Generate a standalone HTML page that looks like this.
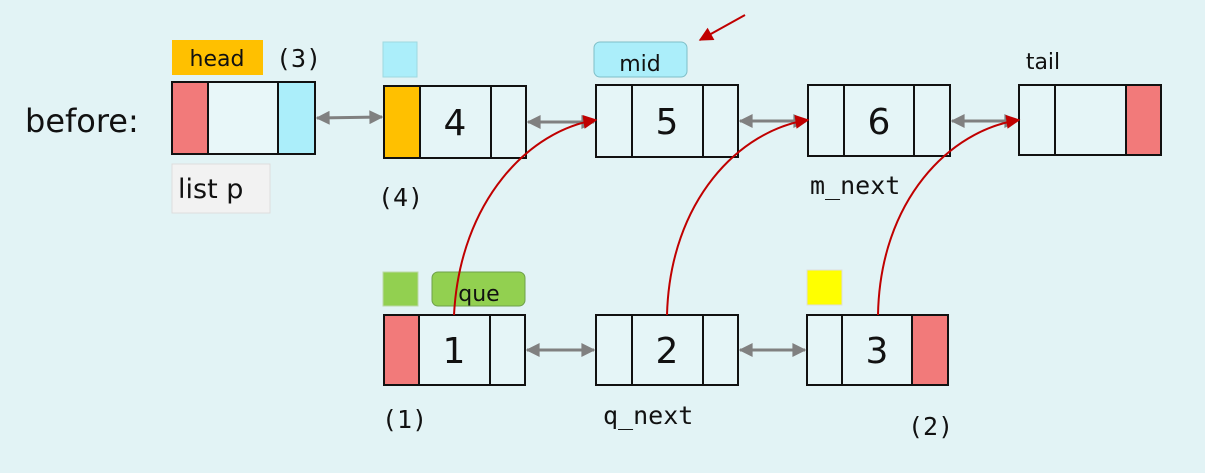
<!DOCTYPE html>
<html><head><meta charset="utf-8"><style>
html,body{margin:0;padding:0;background:#e2f3f5;}
svg{display:block}
.s{font-family:"DejaVu Sans","Liberation Sans",sans-serif;}
.m{font-family:"DejaVu Sans Mono","Liberation Mono",monospace;}
</style></head><body>
<svg width="1205" height="473" viewBox="0 0 1205 473" xmlns="http://www.w3.org/2000/svg">
<defs>
<marker id="g" viewBox="0 0 10 10" refX="9" refY="5" markerUnits="userSpaceOnUse" markerWidth="17" markerHeight="14" orient="auto-start-reverse"><path d="M0,0 L10,5 L0,10 z" fill="#808080"/></marker>
<marker id="r" viewBox="0 0 10 10" refX="9" refY="5" markerUnits="userSpaceOnUse" markerWidth="16" markerHeight="14" orient="auto"><path d="M0,0 L10,5 L0,10 z" fill="#c00000"/></marker>
</defs>
<rect width="1205" height="473" fill="#e2f3f5"/>
<g stroke="#111" stroke-width="2">
<rect x="172" y="82" width="36" height="72" fill="#f27a7a"/>
<rect x="208" y="82" width="70" height="72" fill="#e8f7f9"/>
<rect x="278" y="82" width="37" height="72" fill="#abeefa"/>
<rect x="384" y="86" width="36" height="72" fill="#ffc000"/>
<rect x="420" y="86" width="71" height="72" fill="#e5f5f7"/>
<rect x="491" y="86" width="35" height="72" fill="#e5f5f7"/>
<rect x="596" y="85" width="36" height="72" fill="#e5f5f7"/>
<rect x="632" y="85" width="71" height="72" fill="#e5f5f7"/>
<rect x="703" y="85" width="35" height="72" fill="#e5f5f7"/>
<rect x="808" y="85" width="36" height="71" fill="#e5f5f7"/>
<rect x="844" y="85" width="70" height="71" fill="#e5f5f7"/>
<rect x="914" y="85" width="36" height="71" fill="#e5f5f7"/>
<rect x="1019" y="85" width="36" height="70" fill="#e5f5f7"/>
<rect x="1055" y="85" width="71" height="70" fill="#e5f5f7"/>
<rect x="1126" y="85" width="35" height="70" fill="#f27a7a"/>
<rect x="384" y="315" width="35" height="70" fill="#f27a7a"/>
<rect x="419" y="315" width="71" height="70" fill="#e5f5f7"/>
<rect x="490" y="315" width="35" height="70" fill="#e5f5f7"/>
<rect x="596" y="315" width="36" height="70" fill="#e5f5f7"/>
<rect x="632" y="315" width="71" height="70" fill="#e5f5f7"/>
<rect x="703" y="315" width="35" height="70" fill="#e5f5f7"/>
<rect x="807" y="315" width="35" height="70" fill="#e5f5f7"/>
<rect x="842" y="315" width="70" height="70" fill="#e5f5f7"/>
<rect x="912" y="315" width="36" height="70" fill="#f27a7a"/>
</g>
<rect x="172" y="40" width="91" height="35" fill="#ffc000"/>
<rect x="383" y="42" width="34" height="35" fill="#abeefa" stroke="#9fd8e0"/>
<rect x="594" y="42" width="93" height="35" rx="6" fill="#abeefa" stroke="#7fbfc8"/>
<rect x="172" y="164" width="98" height="49" fill="#f2f2f2" stroke="#ddd"/>
<rect x="383" y="272" width="35" height="34" fill="#92d050" stroke="#bcd9a8"/>
<rect x="432" y="272" width="93" height="34" rx="6" fill="#92d050" stroke="#6fa04a"/>
<rect x="807" y="270" width="35" height="35" fill="#ffff00" stroke="#ddd"/>
<g class="s" fill="#111">
<text x="217" y="66" font-size="22" text-anchor="middle">head</text>
<text x="640" y="71" font-size="22" text-anchor="middle">mid</text>
<text x="1043" y="69" font-size="22" text-anchor="middle">tail</text>
<text x="25" y="132" font-size="32">before:</text>
<text x="178" y="198" font-size="27">list p</text>
<text x="479" y="301" font-size="22" text-anchor="middle">que</text>
<g font-size="36" text-anchor="middle">
<text x="455" y="135">4</text><text x="667" y="134">5</text><text x="879" y="134">6</text>
<text x="454" y="363">1</text><text x="667" y="363">2</text><text x="877" y="363">3</text>
</g>
</g>
<g class="m" fill="#111" font-size="25">
<text x="276" y="67">(3)</text>
<text x="378" y="206">(4)</text>
<text x="810" y="194">m_next</text>
<text x="382" y="428">(1)</text>
<text x="603" y="424">q_next</text>
<text x="908" y="435">(2)</text>
</g>
<g stroke="#808080" stroke-width="3" fill="none" marker-start="url(#g)" marker-end="url(#g)">
<line x1="317" y1="118" x2="382" y2="117"/>
<line x1="528" y1="122" x2="594" y2="122"/>
<line x1="740" y1="121" x2="806" y2="121"/>
<line x1="952" y1="121" x2="1017" y2="121"/>
<line x1="527" y1="350" x2="594" y2="350"/>
<line x1="740" y1="350" x2="805" y2="350"/>
</g>
<g stroke="#c00000" stroke-width="2" fill="none" marker-end="url(#r)">
<path d="M454,315 C460,200 530,130 596,120"/>
<path d="M667,315 C670,200 740,130 808,120"/>
<path d="M878,315 C880,200 950,130 1019,120"/>
<path d="M745,15 L700,40"/>
</g>
</svg>
</body></html>
